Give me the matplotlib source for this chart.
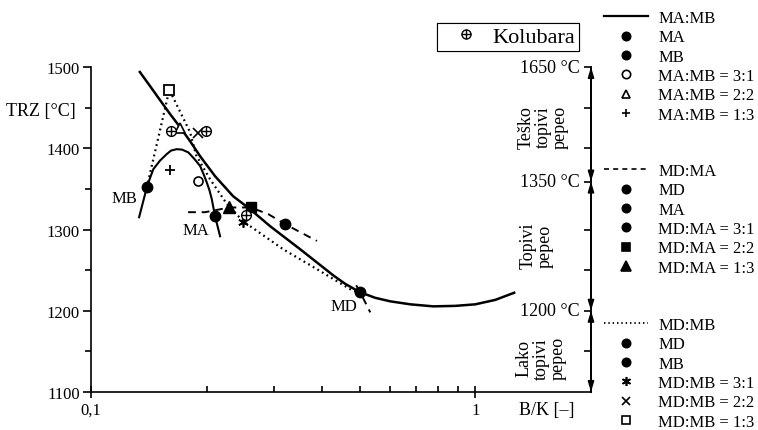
import matplotlib
matplotlib.use("Agg")
import numpy as np
import matplotlib.pyplot as plt
from matplotlib.lines import Line2D
from matplotlib.ticker import FixedLocator, FixedFormatter, NullFormatter
from matplotlib.transforms import blended_transform_factory

plt.rcParams["font.family"] = ["Liberation Serif", "DejaVu Serif"]

# ---- data -------------------------------------------------------------
# general TRZ trend against the basic/acid ratio
trend_bk = [0.1334, 0.1424, 0.1512, 0.1606, 0.1705, 0.1810, 0.1922, 0.2103,
            0.2343, 0.2594, 0.2926, 0.3502, 0.4268, 0.4586, 0.5018, 0.5491,
            0.6007, 0.6775, 0.7773, 0.8870, 1.0, 1.1276, 1.271]
trend_trz = [1495.1, 1476.6, 1459.3, 1442.1, 1426.0, 1408.8, 1390.3, 1365.6,
             1341.0, 1325.0, 1304.0, 1275.7, 1243.6, 1233.1, 1222.7, 1215.9,
             1211.6, 1207.9, 1205.4, 1206.0, 1207.9, 1213.4, 1222.7]

# MA:MB blend curve
ma_mb_bk = [0.1334, 0.1397, 0.1424, 0.1453, 0.1512, 0.1574, 0.1615, 0.1672,
            0.1726, 0.1792, 0.1855, 0.1922, 0.1963, 0.2001, 0.2035, 0.2062,
            0.2103, 0.2167]
ma_mb_trz = [1315.1, 1351.7, 1363.2, 1374.3, 1384.8, 1392.8, 1397.1, 1398.9,
             1398.3, 1394.9, 1387.2, 1378.3, 1368.1, 1357.9, 1347.8, 1337.3,
             1316.3, 1291.7]

# MD:MA blend curve (two separate pieces)
md_ma_bk = [0.1789, 0.1981, 0.2292, 0.2605, 0.2896, 0.3201, 0.3871,
            np.nan, 0.4898, 0.5018, 0.5329]
md_ma_trz = [1321.3, 1321.3, 1327.1, 1327.1, 1318.8, 1306.5, 1285.9,
             np.nan, 1231.3, 1222.7, 1198.0]

# MD:MB blend curve
md_mb_bk = [0.1397, 0.1599, 0.1810, 0.1877, 0.2041, 0.2260, 0.2488, 0.3162,
            0.3878, 0.4812, 0.5018]
md_mb_trz = [1351.7, 1472.0, 1419.9, 1391.5, 1361.9, 1331.1, 1310.2, 1275.7,
             1251.0, 1224.3, 1222.7]

# single coals
coal_names = ["MB", "MA", "MD"]
coal_bk = [0.1397, 0.2103, 0.5018]
coal_trz = [1351.7, 1316.3, 1222.7]

# blends: ratios 3:1, 2:2, 1:3
ma_mb_pts_bk = [0.1896, 0.1705, 0.1606]
ma_mb_pts_trz = [1359.9, 1424.4, 1373.4]
md_ma_pts_bk = [0.3201, 0.2605, 0.2292]
md_ma_pts_trz = [1306.5, 1327.1, 1327.1]
md_mb_pts_bk = [0.2491, 0.1903, 0.1599]
md_mb_pts_trz = [1309.0, 1418.3, 1472.0]

# Kolubara coal
kolubara_bk = [0.1613, 0.1996, 0.2533]
kolubara_trz = [1421.7, 1420.7, 1317.6]

# ash fusibility zones on the right edge
zone_bounds = [1500, 1359, 1200, 1100]
zone_temps = ["1650 °C", "1350 °C", "1200 °C"]
zone_names = ["Teško\ntopivi\npepeo", "Topivi\npepeo", "Lako\ntopivi\npepeo"]
zone_centers = [1427, 1281, 1142]
zone_xpos = [0.904, 0.892, 0.900]

x_major = [0.1, 1.0]
x_major_labels = ["0,1", "1"]
x_minor = [0.2, 0.3, 0.4, 0.5, 0.6, 0.7, 0.8, 0.9]
y_major = [1100, 1200, 1300, 1400, 1500]
y_minor = [1150, 1250, 1350, 1450]

# ---- figure -----------------------------------------------------------
W, H = 758, 431
fig = plt.figure(figsize=(W / 100, H / 100), dpi=100)
ax = fig.add_axes([91 / W, 38 / H, 500 / W, 325 / H])
ax.set_xscale("log")
ax.set_xlim(0.1, 2.0)
ax.set_ylim(1100, 1500)

K = "black"
ax.plot(trend_bk, trend_trz, color=K, lw=1.8, solid_capstyle="butt", solid_joinstyle="round")
ax.plot(ma_mb_bk, ma_mb_trz, color=K, lw=1.5, solid_joinstyle="round")
ax.plot(md_ma_bk, md_ma_trz, color=K, lw=1.4, linestyle=(0, (4, 3)))
ax.plot(md_mb_bk, md_mb_trz, color=K, lw=1.6, linestyle=(0, (0.8, 1.6)))

mk = dict(color=K, linestyle="none", zorder=5)
ax.plot(coal_bk, coal_trz, marker="o", ms=7.5, **mk)

# MA:MB blends
ax.plot(ma_mb_pts_bk[0], ma_mb_pts_trz[0], marker="o", ms=6.5, mfc="white", mew=1.2, **mk)
ax.plot(ma_mb_pts_bk[1], ma_mb_pts_trz[1], marker="^", ms=7, mfc="white", mew=1.2, **mk)
ax.plot(ma_mb_pts_bk[2], ma_mb_pts_trz[2], marker="+", ms=7, mew=1.3, **mk)
# MD:MA blends
ax.plot(md_ma_pts_bk[0], md_ma_pts_trz[0], marker="o", ms=7.5, **mk)
ax.plot(md_ma_pts_bk[1], md_ma_pts_trz[1], marker="s", ms=7, **mk)
ax.plot(md_ma_pts_bk[2], md_ma_pts_trz[2], marker="^", ms=8, **mk)
# MD:MB blends
ax.plot(md_mb_pts_bk[0], md_mb_pts_trz[0], marker=(6, 2, 0), ms=7.5, mew=1.2, **mk)
ax.plot(md_mb_pts_bk[1], md_mb_pts_trz[1], marker="x", ms=6.5, mew=1.2, **mk)
ax.plot(md_mb_pts_bk[2], md_mb_pts_trz[2], marker="s", ms=6.5, mfc="white", mew=1.3, **mk)
# Kolubara
ax.plot(kolubara_bk, kolubara_trz, marker="o", ms=7, mfc="white", mew=1.0, **mk)
ax.plot(kolubara_bk, kolubara_trz, marker="+", ms=7, mew=1.0, **mk)

# coal labels
label_offsets = {"MB": (-22, -11), "MA": (-19, -14), "MD": (-16, -14)}
for name, bx, ty in zip(coal_names, coal_bk, coal_trz):
    ax.annotate(name, (bx, ty), xytext=label_offsets[name], textcoords="offset pixels",
                ha="center", va="center", fontsize=12)

# ---- axes styling -----------------------------------------------------
ax.spines["top"].set_visible(False)
for s in ["left", "bottom", "right"]:
    ax.spines[s].set_linewidth(1.2)

ax.xaxis.set_major_locator(FixedLocator(x_major))
ax.xaxis.set_major_formatter(FixedFormatter(x_major_labels))
ax.xaxis.set_minor_locator(FixedLocator(x_minor))
ax.xaxis.set_minor_formatter(NullFormatter())
ax.yaxis.set_major_locator(FixedLocator(y_major))
ax.yaxis.set_minor_locator(FixedLocator(y_minor))
ax.tick_params(axis="x", which="major", direction="inout", length=8, width=1.2,
               labelsize=12, pad=3)
ax.tick_params(axis="x", which="minor", direction="in", length=4, width=1.2)
ax.tick_params(axis="y", which="major", direction="out", length=6, width=1.2,
               labelsize=12, pad=2, right=False)
ax.tick_params(axis="y", which="minor", direction="out", length=4, width=1.2, right=False)

sec = ax.secondary_yaxis("right")
sec.set_yticks([1500, 1450, 1400, 1359, 1300, 1250, 1200, 1150])
sec.tick_params(direction="in", length=5, width=1.2, labelright=False)
sec.spines["right"].set_linewidth(1.2)

tr = blended_transform_factory(ax.transAxes, ax.transData)
ax.text(-0.03, 1447, "TRZ [°C]", transform=tr, ha="right", va="center", fontsize=13)
fig.text(547 / W, 1 - 411 / H, "B/K [–]", ha="center", va="center", fontsize=13)

# fusibility zones on the right edge
for top, bot in zip(zone_bounds[:-1], zone_bounds[1:]):
    ax.annotate("", xy=(1.0, top), xytext=(1.0, bot), xycoords=tr, textcoords=tr,
                arrowprops=dict(arrowstyle="<|-|>,head_length=0.6,head_width=0.18",
                                color=K, lw=1.2, shrinkA=0, shrinkB=0, mutation_scale=10),
                annotation_clip=False)
for yv, txt in zip(zone_bounds[:-1], zone_temps):
    ax.text(0.978, yv, txt, transform=tr, ha="right", va="center", fontsize=13)
for xv, yv, txt in zip(zone_xpos, zone_centers, zone_names):
    ax.text(xv, yv, txt, transform=tr, ha="center", va="center", rotation=90,
            fontsize=13, linespacing=1.0, multialignment="center")

# ---- legends ----------------------------------------------------------
def mh(marker, ms=6, fill=True, mew=1.2):
    return Line2D([], [], color=K, linestyle="none", marker=marker, ms=ms,
                  mfc=K if fill else "white", mew=mew)

kol = (mh("o", 6.5, False, 1.0), mh("+", 6.5, True, 1.0))
leg_k = ax.legend([kol], ["Kolubara"], loc="upper left",
                  bbox_to_anchor=(437 / W, 1 - 24 / H), bbox_transform=fig.transFigure,
                  frameon=True, fancybox=False, edgecolor=K, framealpha=1,
                  fontsize=16, borderpad=0.16, borderaxespad=0, handlelength=2.3,
                  handletextpad=0.05)
leg_k.get_frame().set_linewidth(0.8)
ax.add_artist(leg_k)

groups = [
    ([Line2D([], [], color=K, lw=1.6), mh("o"), mh("o"), mh("o", 6, False),
      mh("^", 6, False), mh("+", 6)],
     ["MA:MB", "MA", "MB", "MA:MB = 3:1", "MA:MB = 2:2", "MA:MB = 1:3"], 11),
    ([Line2D([], [], color=K, lw=1.2, linestyle=(0, (3, 2.5))), mh("o"), mh("o"), mh("o"),
      mh("s", 5.5), mh("^", 6.5)],
     ["MD:MA", "MD", "MA", "MD:MA = 3:1", "MD:MA = 2:2", "MD:MA = 1:3"], 164),
    ([Line2D([], [], color=K, lw=1.3, linestyle=(0, (0.8, 1.6))), mh("o"), mh("o"),
      mh((6, 2, 0), 6.5), mh("x", 5.5), mh("s", 5.5, False)],
     ["MD:MB", "MD", "MB", "MD:MB = 3:1", "MD:MB = 2:2", "MD:MB = 1:3"], 318),
]
for handles, labels, top in groups:
    fig.legend(handles, labels, loc="upper left", bbox_to_anchor=(604 / W, 1 - top / H),
               frameon=False, borderpad=0, borderaxespad=0, handlelength=2.65,
               handletextpad=0.6, labelspacing=0.2, fontsize=12)

fig.savefig("out.png", dpi=100)
